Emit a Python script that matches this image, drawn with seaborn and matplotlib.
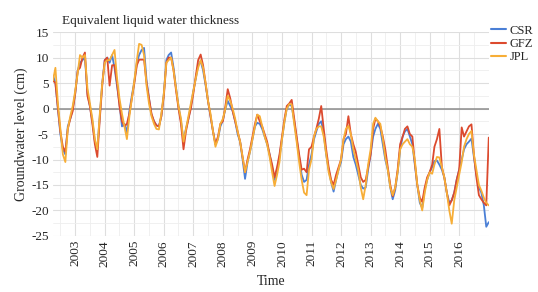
import pandas as pd
import numpy as np
import matplotlib
matplotlib.use("Agg")
import matplotlib.pyplot as plt
import matplotlib.dates as mdates
import seaborn as sns

# monthly values, Apr 2002 .. Jan 2017 (cm)
csr = [
    6.5, 5, 0, -5, -8, -9, -3.5, -2, 0,                          # 2002 Apr-Dec
    3, 7.5, 9, 9.5, 10, 3, 0.5, -2.5, -6.5, -8, -1.5, 5,        # 2003
    9.5, 10, 9, 10.5, 8, 4.5, 1, -3.5, -3, -4.7, -0.5, 2.5,     # 2004
    5.3, 9, 10.5, 11.5, 11.9, 5.5, 2, -1.2, -2.5, -3.3, -3.5, -1.5,  # 2005
    3, 9.5, 10.5, 11, 8, 4, 0.5, -2.5, -6.3, -4, -2, 0.5,       # 2006
    3.5, 6, 8.5, 9.3, 7.5, 4.6, 1.5, -1.5, -4.5, -7, -6, -3.5,  # 2007
    -2.3, 0, 1.5, 0.5, -0.5, -2.5, -5, -6.5, -10, -13.8, -10.5, -8.5,  # 2008
    -6, -3.5, -2.8, -3, -4, -5.5, -7, -9, -11.5, -14, -12, -9.5,       # 2009
    -6, -2.5, 0, 0.8, 0.5, -2.5, -6, -9.5, -13, -14.4, -14, -11,       # 2010
    -9, -6, -4.5, -3, -2.5, -5, -9, -12, -14.5, -16.3, -14, -12,       # 2011
    -10.5, -7, -6, -5.5, -6.5, -9.5, -11, -13, -15, -15.7, -15.5, -12,  # 2012
    -9, -5.5, -4, -3, -4, -7, -10, -12, -15.5, -17.8, -16, -12.5,      # 2013
    -8, -5.5, -4.5, -4, -5.5, -7, -11, -15, -18.5, -19.5, -16, -14,    # 2014
    -12.5, -11.5, -10.3, -10.2, -11, -12, -13.5, -16.5, -18.5, -18, -16.5, -14,  # 2015
    -12, -10, -8, -7, -6.5, -5.9, -9.5, -13, -15.5, -16.5, -19, -23.2,  # 2016
    -22.3,                                                       # 2017 Jan
]
gfz = [
    5.5, 5, 0, -4.5, -7.5, -8.5, -4, -2, -0.5,
    3, 7.5, 8, 10, 11, 2.5, 0.5, -3, -7, -9.5, -2, 4.5,
    9.5, 10, 4.5, 8.5, 8.5, 5, 0.5, -2.5, -3.5, -3, -1, 2,
    5, 8.5, 9.6, 9.6, 9.6, 5, 2, -1, -2.5, -3.3, -3.5, -1.5,
    2.5, 9, 10, 10, 7.5, 3.5, 0, -3, -8, -4.5, -2, 0,
    3, 6.5, 9.5, 10.6, 8.5, 5, 1.5, -1.5, -4.5, -7, -5.5, -3,
    -2.5, 0.5, 3.8, 2, -0.5, -2.5, -4.5, -6.5, -9.5, -12.5, -10, -8,
    -5.5, -3, -1.2, -2.5, -3.5, -5, -6.5, -9, -11, -13.5, -11.5, -9,
    -5.5, -2, 0.5, 1, 1.7, -2, -5.5, -9, -12, -11.8, -12.5, -8,
    -7.5, -5.5, -4, -2, 0.5, -4, -8, -11.5, -14, -15, -13, -11.5,
    -10, -6, -5, -1.5, -5, -7, -8.5, -11, -13.5, -14.4, -14, -11.5,
    -9, -4, -2, -2.5, -3.5, -5.5, -8, -11.5, -15, -17.2, -15.5, -12,
    -7, -5.5, -4, -3.5, -5, -5.5, -10.5, -15, -17.5, -18.3, -15.5, -13.5,
    -12.5, -11, -7.5, -6, -4, -11.5, -13.5, -16.5, -19, -18, -16.5, -14,
    -12, -3.7, -5.5, -4.5, -3.5, -3.1, -9, -13.5, -17, -17.8, -18.5, -19,
    -5.7,
]
jpl = [
    5.5, 8, 1, -4, -9, -10.5, -4, -1.5, 0.5,
    3.5, 7, 10.5, 10, 10.5, 4, 1, -2, -6, -8, -1, 5,
    9, 9.5, 9.5, 10.5, 11.5, 6, 2, -1, -3.5, -6, -1.5, 2,
    5.5, 9.5, 12.7, 12.5, 10.5, 4.5, 1, -1.5, -3, -4, -4.1, -1,
    3, 9, 9.5, 10, 7.5, 4, 0.5, -2, -6.5, -4, -1.5, 1,
    3.5, 6, 8, 9.5, 8, 5, 1.5, -1, -4.5, -7.5, -6, -3,
    -2, 0, 2.5, 1.5, 0, -2, -4.5, -6.5, -9.5, -12.5, -10.5, -8.5,
    -6, -3.5, -1.2, -1.5, -3.5, -5.5, -7, -9.5, -12.5, -15.2, -13, -10.5,
    -6, -2.5, 0, 0.9, 0.8, -3, -6.5, -10.5, -14, -16.5, -17, -12,
    -10, -5.5, -4, -3.5, -3.5, -5.5, -9, -12.5, -14.5, -15.8, -14, -12,
    -10, -6, -4, -3.4, -5, -8, -10, -12, -15.5, -17.8, -15, -11,
    -8, -3, -1.8, -2.5, -3, -6, -9.5, -12, -15.5, -17, -15.5, -12.5,
    -8, -7, -6.5, -6, -7, -7.5, -10, -15, -18, -20, -16.5, -14,
    -12.5, -12.8, -11, -9.5, -9.6, -11.5, -13.5, -16.5, -20, -22.6, -18, -15.5,
    -13, -10.5, -7.5, -6, -5, -4.4, -9, -12, -15, -16.1, -17.5, -18.5,
    -19,
]
series_names = ["CSR", "GFZ", "JPL"]
tick_years = list(range(2003, 2017))

dates = pd.date_range("2002-04-01", periods=len(csr), freq="MS")
df = pd.DataFrame({"Time": dates, "CSR": csr, "GFZ": gfz, "JPL": jpl})
long_df = df.melt(id_vars="Time", var_name="Solution", value_name="Level")

sns.set_style("white")
plt.rcParams["font.family"] = ["Liberation Serif", "DejaVu Serif"]
plt.rcParams["axes.unicode_minus"] = False

fig = plt.figure(figsize=(5.38, 2.92), dpi=100)
ax = fig.add_axes([0.0985, 0.192, 0.81, 0.698])

palette = {"CSR": "#4a7fd6", "GFZ": "#dc4a2e", "JPL": "#f7ae37"}
sns.lineplot(data=long_df, x="Time", y="Level", hue="Solution",
             hue_order=series_names, palette=palette, linewidth=1.3,
             ax=ax, legend=False)

ax.axhline(0, color="#8c8c8c", linewidth=1.1, zorder=1)

ax.set_xlim(pd.Timestamp("2002-04-01"), pd.Timestamp("2017-01-01"))
ax.set_ylim(-25, 15)
ax.set_yticks(np.arange(-25, 16, 5))
ax.yaxis.set_minor_locator(matplotlib.ticker.MultipleLocator(2.5))
ax.set_xticks([pd.Timestamp(f"{y}-01-01") for y in tick_years])
ax.set_xticklabels([str(y) for y in tick_years], rotation=90)
ax.xaxis.set_minor_locator(mdates.MonthLocator(bymonth=7))

ax.grid(True, which="major", color="#dedede", linewidth=0.8)
ax.grid(True, which="minor", color="#eeeeee", linewidth=0.6)
ax.set_axisbelow(True)
for s in ax.spines.values():
    s.set_visible(False)
ax.tick_params(axis="both", which="both", length=0, labelsize=9.5, pad=3)

ax.set_xlabel("Time", fontsize=10, labelpad=6)
ax.set_ylabel("Groundwater level (cm)", fontsize=10, labelpad=2)
ax.set_title("Equivalent liquid water thickness", fontsize=9.5, loc="left",
             x=0.02, pad=6)

handles = [matplotlib.lines.Line2D([], [], color=palette[n], linewidth=1.5)
           for n in series_names]
fig.legend(handles, series_names, loc="upper left", bbox_to_anchor=(0.912, 0.915),
           frameon=False, fontsize=9, handlelength=1.2, handletextpad=0.3,
           labelspacing=0.1, borderaxespad=0, borderpad=0)

fig.savefig("out.png", dpi=100)
